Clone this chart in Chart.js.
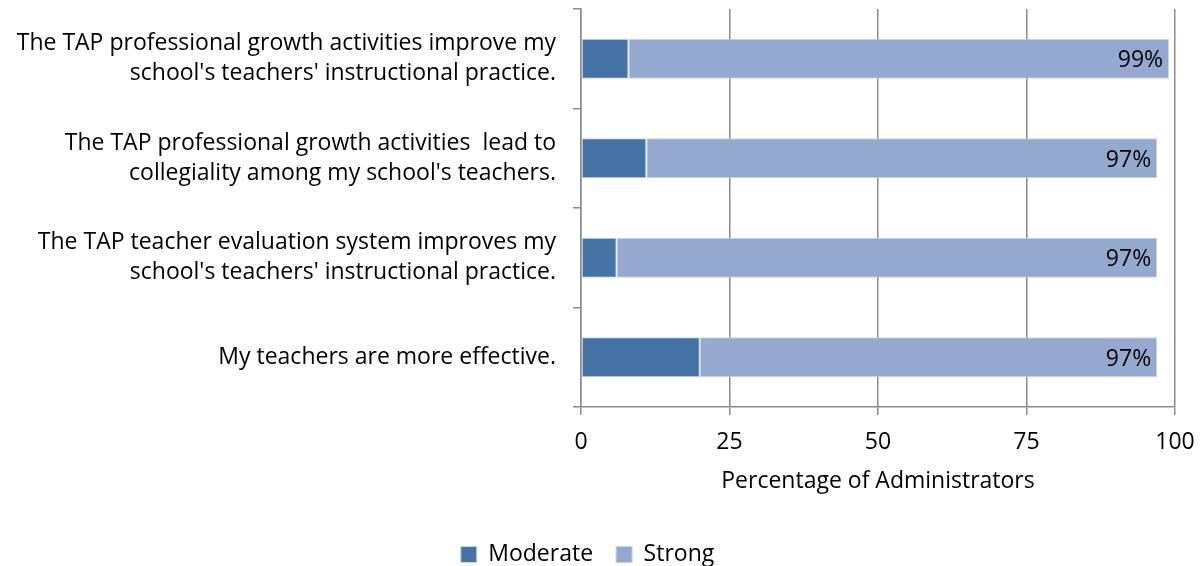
<!DOCTYPE html>
<html lang="en">
<head>
  <meta charset="UTF-8">
  <title>TAP Administrators</title>
  <script src="https://cdn.jsdelivr.net/npm/chart.js"></script>
  <style>
    html, body { margin: 0; padding: 0; background: #fff; }
    #wrap { width: 1203px; height: 566px; }
  </style>
</head>
<body>
  <div id="wrap"><canvas id="chart"></canvas></div>

  <script>
    const categories = [
      ["The TAP professional growth activities improve my", "school's teachers' instructional practice."],
      ["The TAP professional growth activities  lead to", "collegiality among my school's teachers."],
      ["The TAP teacher evaluation system improves my", "school's teachers' instructional practice."],
      "My teachers are more effective."
    ];
    const moderate = [8, 11, 6, 20];
    const strong = [91, 86, 91, 77];
    const totals = ["99%", "97%", "97%", "97%"];
    const xTicks = [0, 25, 50, 75, 100];

    const gridColor = '#8c8c8c';
    const fontSize = 23;

    // total label drawn inside the end of each bar
    const totalLabels = {
      id: 'totalLabels',
      afterDatasetsDraw(chart) {
        const ctx = chart.ctx;
        const meta = chart.getDatasetMeta(1);
        ctx.save();
        ctx.font = fontSize + 'px "Open Sans", sans-serif';
        ctx.fillStyle = '#000';
        ctx.textAlign = 'right';
        ctx.textBaseline = 'middle';
        meta.data.forEach((bar, i) => {
          ctx.fillText(totals[i], bar.x - 6, bar.y + 2);
        });
        ctx.restore();
      }
    };

    Chart.defaults.font.family = '"Open Sans", sans-serif';
    Chart.defaults.font.size = fontSize;
    Chart.defaults.color = '#000';

    new Chart(document.getElementById('chart'), {
      type: 'bar',
      data: {
        labels: categories,
        datasets: [
          { label: 'Moderate', data: moderate, backgroundColor: '#4573a6', borderColor: '#c9d4e8', borderWidth: 1, borderSkipped: false },
          { label: 'Strong', data: strong, backgroundColor: '#95a9cf', borderColor: '#c9d4e8', borderWidth: 1, borderSkipped: false }
        ]
      },
      options: {
        indexAxis: 'y',
        responsive: true,
        maintainAspectRatio: false,
        animation: false,
        categoryPercentage: 1,
        barPercentage: 0.4,
        layout: { padding: { top: 9, right: 28, bottom: -10, left: 0 } },
        plugins: {
          legend: {
            position: 'bottom',
            labels: { boxWidth: 16, boxHeight: 16, padding: 23, font: { size: fontSize } }
          },
          tooltip: { enabled: false }
        },
        scales: {
          x: {
            stacked: true,
            min: 0,
            max: 100,
            afterBuildTicks(scale) { scale.ticks = xTicks.map(v => ({ value: v })); },
            afterFit(scale) {
              scale.height = 113;
              scale.paddingLeft = 0;
              scale.paddingRight = 0;
            },
            grid: { color: gridColor, lineWidth: 1.5, tickLength: 8 },
            border: { color: gridColor, width: 1.5 },
            ticks: { padding: 14, font: { size: fontSize } },
            title: { display: true, text: 'Percentage of Administrators', font: { size: fontSize }, padding: { top: 6, bottom: 25 } }
          },
          y: {
            stacked: true,
            afterFit(scale) {
              scale.width = 581;
              scale.paddingTop = 0;
              scale.paddingBottom = 0;
            },
            grid: { offset: true, drawOnChartArea: false, color: gridColor, lineWidth: 1.5, tickLength: 8 },
            border: { color: gridColor, width: 1.5 },
            ticks: { padding: 17, font: { size: fontSize, lineHeight: 1.3 } }
          }
        }
      },
      plugins: [totalLabels]
    });
  </script>
</body>
</html>
